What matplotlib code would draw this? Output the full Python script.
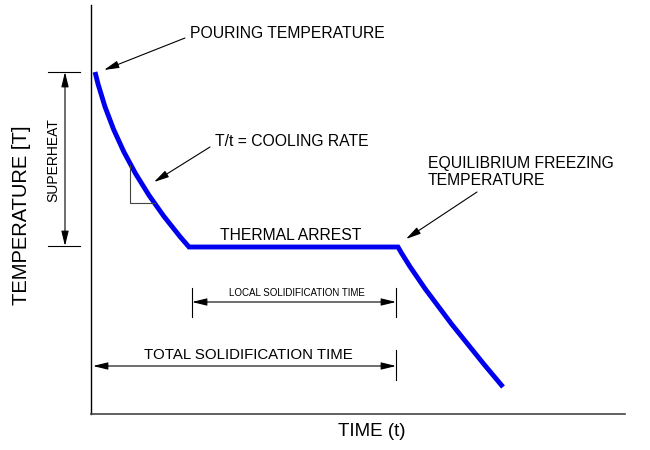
import matplotlib.pyplot as plt
from matplotlib.path import Path
from matplotlib.patches import PathPatch

plt.rcParams['font.family'] = ['Liberation Sans', 'DejaVu Sans']

# cooling curve (diagram units, y grows downward): start, bend, end of each part
cool_t = [95, 117, 189]
cool_T = [72, 166, 247]
arrest_t = [189, 398]
arrest_T = [247, 247]
solid_t = [398, 425, 503]
solid_T = [247, 295, 387]

fig = plt.figure(figsize=(6.5, 4.5), dpi=100)
ax = fig.add_axes([0, 0, 1, 1])
ax.set_xlim(0, 650)
ax.set_ylim(450, 0)
ax.axis('off')

verts = list(zip(cool_t, cool_T)) + [(arrest_t[1], arrest_T[1])] + list(zip(solid_t[1:], solid_T[1:]))
codes = [Path.MOVETO, Path.CURVE3, Path.CURVE3, Path.LINETO, Path.CURVE3, Path.CURVE3]
ax.add_patch(PathPatch(Path(verts, codes), fill=False, edgecolor='#0000ee', lw=3.5,
                       joinstyle='miter', capstyle='butt'))

# axes
ax.plot([91, 91], [5, 414], color='black', lw=1)
ax.plot([91, 625], [414, 414], color='#444444', lw=1.2)
ax.text(22, 215, 'TEMPERATURE [T]', rotation=90, ha='center', va='center', fontsize=14.5)
ax.text(372, 432, 'TIME (t)', ha='center', va='center', fontsize=13.5)

thin = dict(color='black', lw=0.8)
arr = dict(arrowstyle='-|>,head_length=0.9,head_width=0.22', color='black', lw=0.8,
           shrinkA=0, shrinkB=0)
darr = dict(arrowstyle='<|-|>,head_length=0.9,head_width=0.22', color='black', lw=0.8,
            shrinkA=0, shrinkB=0)

# superheat
ax.plot([48, 80], [72, 72], **thin)
ax.plot([48, 80], [246, 246], **thin)
ax.annotate('', xy=(65, 72), xytext=(65, 246), arrowprops=darr)
ax.text(53, 160, 'SUPERHEAT', rotation=90, ha='center', va='center', fontsize=10)

# pouring temperature
ax.text(190, 34, 'POURING TEMPERATURE', ha='left', va='center', fontsize=11.3)
ax.annotate('', xy=(104, 70), xytext=(185, 38), arrowprops=arr)

# cooling rate
ax.text(215, 142, 'T/t = COOLING RATE', ha='left', va='center', fontsize=11.3)
ax.annotate('', xy=(154, 182), xytext=(210, 147), arrowprops=arr)
ax.plot([130, 130, 155], [165, 203, 203], color='#444444', lw=0.8)

# thermal arrest
ax.text(291, 236, 'THERMAL ARREST', ha='center', va='center', fontsize=11.3)

# equilibrium freezing temperature
ax.text(428, 172, 'EQUILIBRIUM FREEZING\nTEMPERATURE', ha='left', va='center',
        fontsize=11.3, linespacing=1.1)
ax.annotate('', xy=(406, 239), xytext=(477, 192), arrowprops=arr)

# local solidification time
ax.plot([192, 192], [288, 317], **thin)
ax.plot([396, 396], [288, 317], **thin)
ax.annotate('', xy=(192, 302), xytext=(396, 302), arrowprops=darr)
ax.text(297, 293, 'LOCAL SOLIDIFICATION TIME', ha='center', va='center', fontsize=7)

# total solidification time
ax.plot([396, 396], [350, 380], **thin)
ax.annotate('', xy=(93, 366), xytext=(396, 366), arrowprops=darr)
ax.text(248, 355, 'TOTAL SOLIDIFICATION TIME', ha='center', va='center', fontsize=10.8)

fig.savefig('out.png', dpi=100)
